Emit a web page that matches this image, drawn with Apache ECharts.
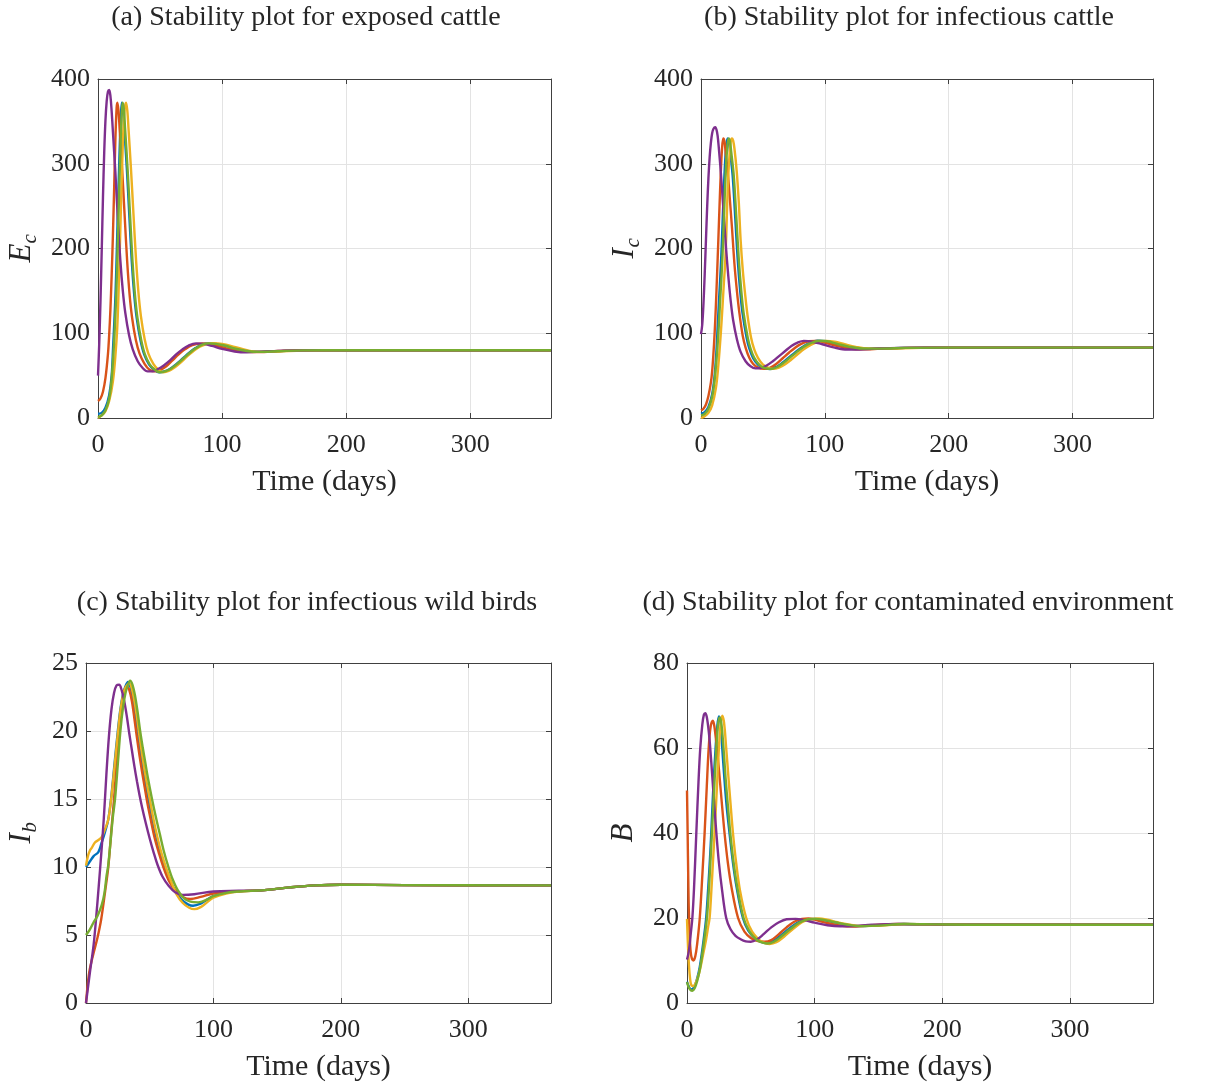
<!DOCTYPE html>
<html>
<head>
<meta charset="utf-8">
<script src="https://cdn.jsdelivr.net/npm/echarts@6.0.0/dist/echarts.min.js"></script>
<style>
html,body{margin:0;padding:0;background:#fff;}
#chart{width:1221px;height:1084px;}
</style>
</head>
<body>
<div id="chart"></div>
<script>
// ---------- DATA ----------
const seriesNames = ['Case 1', 'Case 2', 'Case 3', 'Case 4', 'Case 5'];
const seriesColors = ['#0072BD', '#D95319', '#EDB120', '#7E2F8E', '#77AC30'];
const xTicks = [0, 100, 200, 300];
const panelTitles = [
  '(a) Stability plot for exposed cattle',
  '(b) Stability plot for infectious cattle',
  '(c) Stability plot for infectious wild birds',
  '(d) Stability plot for contaminated environment'
];
const xLabel = 'Time (days)';

// Panel (a): exposed cattle E_c  [day, value]
const aBlue = [[0,5],[3,6],[6,12],[9,27],[11,50],[12.2,85],[13.2,115],[14.2,150],[15.2,200],[16.2,255],[17.2,305],[18.2,348],[19.2,372],[20.2,365],[21.2,342],[23.2,295],[25.2,240],[27.2,185],[29.2,145],[31.2,118],[34.2,92],[37.2,75],[41.2,63],[45.2,57],[49.2,54],[53.5,55],[58.5,58.5],[63.5,64],[68.5,70.5],[73.5,77],[78.5,82.5],[83.5,86.5],[89,88],[95,87.5],[102,85.5],[110,82],[120,79],[130,78],[145,78.8],[165,79.8],[200,80],[365,80]];
const aOrange = [[0,20],[2,23],[4,31],[6,47],[8,75],[9,98],[10,128],[11,168],[12,215],[13,270],[14,328],[15,366],[15.6,372],[16.5,363],[17.5,340],[19.5,292],[21.5,238],[23.5,185],[25.5,145],[27.5,118],[30.5,92],[33.5,76],[37.5,64],[41.5,57],[46,55],[50,56.5],[55,61],[60,68],[65,75],[70,81],[76,86],[84,88],[90,87],[100,83.5],[110,80],[120,78],[130,77.8],[145,79],[165,80],[200,80],[365,80]];
const aYellow = [[0,0],[3,3],[6,8],[9,20],[12,43],[14,73],[15.5,106],[16.6,150],[17.6,200],[18.6,255],[19.6,305],[20.6,345],[21.6,366],[22.6,372],[23.6,363],[24.6,341],[26.6,293],[28.6,240],[30.6,188],[32.6,148],[34.6,120],[37.6,93],[40.6,76],[44.6,64],[48.6,57],[52.6,54],[57,55.5],[62,60],[67,66],[72,73],[77,79],[82,84],[87,87],[93,88.3],[100,87.5],[110,84],[120,80],[130,78],[145,78.5],[165,79.5],[200,80],[365,80]];
const aPurple = [[0,50],[1,88],[2,138],[3,198],[4,260],[5,313],[6,351],[7,374],[8,385],[9,387],[10,380],[11,362],[12,338],[14,290],[16,235],[18,186],[20,150],[22,124],[25,98],[28,81],[32,67],[36,59],[40,55],[44,55],[48,57.5],[53,62],[58,68],[63,75],[68,81],[73,85.5],[79,88],[85,87.5],[92,85],[100,81.5],[110,78.5],[120,77.5],[132,78.3],[150,79.5],[175,80],[365,80]];
const aGreen = [[0,1],[3,3],[6,9],[9,23],[11,46],[12.8,85],[13.8,115],[14.8,150],[15.8,200],[16.8,255],[17.8,305],[18.8,348],[19.8,372],[20.8,365],[21.8,342],[23.8,295],[25.8,240],[27.8,185],[29.8,145],[31.8,118],[34.8,92],[37.8,75],[41.8,63],[45.8,57],[49.8,54],[54,55],[59,58.5],[64,64],[69,70.5],[74,77],[79,82.5],[84,86.5],[89.5,88],[95,87.5],[102,85.5],[110,82],[120,79],[130,78],[145,78.8],[165,79.8],[200,80],[365,80]];

// Panel (b): infectious cattle I_c
const bBlue = [[0,5],[3,7],[6,13],[9,28],[11,50],[12.5,80],[13.6,112],[14.6,140],[15.6,167],[16.5,195],[17.5,234],[18.5,272],[19.5,303],[20.5,322],[21.5,330],[22.5,326],[23.5,314],[25.5,287],[27.5,240],[29.5,190],[31.5,152],[33.5,124],[36.8,95],[39,82],[42,71],[46,63],[50,59],[55.5,57.8],[61,60.5],[66,65.5],[71,71.5],[76,77.5],[81,83],[87,88],[94,91.2],[101,90.5],[109,87.5],[119,84],[129,82],[144,81.8],[165,82.7],[200,83],[365,83]];
const bOrange = [[0,9],[2,11],[4,16],[6,26],[8,42],[9,55],[10,75],[11,100],[12,132],[13,170],[14,210],[15,252],[16,290],[17,318],[18,330],[19,326],[20,312],[21.6,290],[23,264],[25,225],[27,182],[29,150],[31,124],[33.7,97],[36,83],[39,71],[42,64],[46,59.5],[51,58],[56,59.5],[61,64],[66,70.5],[71,77],[76,83],[81,87.5],[87,90.5],[93,91],[100,89],[110,85],[120,82],[130,81],[145,81.8],[165,82.8],[200,83],[365,83]];
const bYellow = [[0,0],[3,2],[6,6],[9,15],[12,35],[14,62],[16,100],[17.5,135],[18.5,160],[19.4,180],[20.4,215],[21.2,255],[22,285],[23,310],[24,326],[25,330],[26,327],[27,318],[28.8,292],[30.5,255],[32,210],[33.7,175],[35.5,148],[37.5,122],[40.4,95],[43,81],[46,71],[50,63],[54,59.5],[58,58],[63,59.5],[68,63.5],[73,69],[78,75],[83,81],[89,86.5],[95,90],[101,91],[108,90],[116,87],[125,84],[135,82],[150,81.8],[170,82.6],[200,83],[365,83]];
const bPurple = [[0,99],[1,110],[2,135],[3,170],[4,210],[5,250],[6,283],[7,308],[8,325],[9,336],[10,341],[11.5,343],[13,337],[14,325],[15,308],[16,290],[18,248],[20,205],[22,168],[24,138],[26,115],[29,93],[32,78],[36,67],[40,61],[44,58.5],[48,59],[53,62],[58,67],[63,73],[68,79],[73,85],[78,89],[83,91],[90,90],[98,87],[108,83],[118,80.8],[128,80.8],[140,81.8],[160,82.8],[200,83],[365,83]];
const bGreen = [[0,3],[3,5],[6,11],[9,25],[11,45],[13,78],[14.5,112],[15.5,140],[16.5,165],[17.4,193],[18.4,232],[19.4,270],[20.4,302],[21.4,322],[22.4,330],[23.4,326],[24.4,314],[26.4,287],[28.4,240],[30.4,190],[32.4,152],[34.4,124],[37.7,95],[40,82],[43,71],[47,63],[51,59],[56.6,57.8],[62,60.5],[67,65.5],[72,71.5],[77,77.5],[82,83],[88,88],[95.7,91.2],[102,90.5],[110,87.5],[120,84],[130,82],[145,81.8],[165,82.7],[200,83],[365,83]];

// Panel (c): infectious wild birds I_b
const cBlue = [[0,10],[3,10.4],[6,10.8],[9.7,11.1],[12,11.7],[15,12.6],[17.5,13.5],[20,15.3],[22.5,17.7],[25,20],[27,21.6],[29,22.7],[31,23.3],[33,23.6],[35,23.2],[37,22.3],[39,21],[41,19.6],[43,18.3],[45,17.1],[47,16],[49,15],[52,13.6],[55,12.3],[58,11.2],[62,10],[66,9],[70,8.2],[75,7.6],[80,7.25],[84,7.15],[90,7.3],[95,7.6],[100,7.85],[110,8.1],[120,8.2],[140,8.3],[160,8.5],[180,8.65],[200,8.7],[250,8.67],[365,8.65]];
const cOrange = [[0,0],[1.5,1.5],[3,2.5],[6,3.7],[9,4.8],[12,6.2],[15,8.2],[17.5,10],[20,12.8],[22,15],[24,17.6],[26,20],[28,21.8],[30,22.9],[32,23.3],[34,23],[36,22.2],[38,20.9],[40,19.5],[42,18.2],[44,17],[46,15.9],[48,14.8],[51,13.4],[54,12.1],[57,11.1],[60.7,10],[65,9],[70,8.3],[76,7.8],[82,7.65],[90,7.8],[100,8.05],[115,8.2],[140,8.3],[160,8.5],[180,8.65],[200,8.7],[250,8.67],[365,8.65]];
const cYellow = [[0,10.1],[1.5,10.8],[3,11.2],[4.5,11.4],[7,11.8],[10,12],[12.3,12.2],[15,12.8],[17.5,13.5],[20,15.2],[22.5,17.5],[25,19.8],[27,21.5],[29,22.6],[31,23.2],[34,23.5],[36,23.1],[38,22.2],[40,21],[42,19.6],[44,18.3],[46,17.1],[48,16],[50,15],[53,13.5],[56,12.2],[59,11.1],[63,9.9],[67,8.9],[71,8],[76,7.35],[81,7],[85,6.9],[90,7.05],[95,7.4],[100,7.75],[110,8.05],[120,8.2],[140,8.3],[160,8.5],[180,8.65],[200,8.7],[250,8.67],[365,8.65]];
const cPurple = [[0,0],[3,2.2],[6,4.3],[8,6.3],[10,8.6],[12,11],[14,13.6],[16,16.8],[18,19.6],[20,21.6],[22,22.8],[24,23.35],[26,23.4],[28,23],[30,22.2],[32,21.1],[34,19.8],[36,18.6],[38,17.4],[40,16.3],[42,15.3],[44,14.4],[47,13.2],[50,12.1],[53,11.1],[56,10.2],[60,9.3],[65,8.6],[70,8.15],[76,7.95],[85,8],[100,8.2],[120,8.25],[140,8.3],[160,8.5],[180,8.65],[200,8.7],[250,8.67],[365,8.65]];
const cGreen = [[0,5],[3,5.4],[5.8,5.9],[9,6.4],[12.3,7.2],[14.5,8.1],[16.2,9.4],[17.3,10],[19,11.6],[21,13.6],[22.8,15],[25,17.6],[27,20],[29,21.7],[31,22.8],[33,23.4],[34.6,23.7],[36.5,23.4],[38.5,22.6],[40.5,21.4],[42.5,20],[44.5,18.8],[46.5,17.7],[48.5,16.6],[51.6,15.1],[55,13.6],[58,12.4],[61,11.2],[64.7,10],[68,9.1],[72,8.3],[77,7.7],[82,7.45],[88,7.4],[95,7.6],[100,7.85],[110,8.1],[120,8.2],[140,8.3],[160,8.5],[180,8.65],[200,8.7],[250,8.67],[365,8.65]];

// Panel (d): contaminated environment B
const dBlue = [[0,5],[1.5,3.8],[3,3.2],[4.5,3.3],[6,4],[8,5.8],[10,8.5],[12,12.5],[13.5,16],[15,20],[16.5,26.5],[18,34],[19,40],[20.5,50],[22.4,60],[23.7,65],[25,67.4],[26.3,66],[27.6,60],[29,54],[31,46.5],[33.3,40],[36,33],[39,27],[43.8,20],[48,17],[53,15.3],[58,14.4],[62,14.1],[67,14.5],[73,15.8],[80,17.5],[87,19],[94,19.7],[100,19.8],[107,19.5],[115,19],[125,18.4],[135,18.1],[150,18.3],[170,18.6],[195,18.5],[230,18.4],[365,18.4]];
const dOrange = [[0,50],[0.5,40],[1,29],[1.5,21],[2.5,13.5],[3.5,10.8],[5,10],[6.5,11],[8,14],[10,20],[12,30],[13.8,40],[15.5,51],[17,60],[18.5,65],[20.3,66.4],[21.5,65],[23.4,60],[25,55],[27,48],[29.4,40],[32,33],[35,27],[40,20],[45,16.8],[50,15.3],[55,14.6],[60.7,14.4],[66,14.8],[72,16.2],[78,17.8],[84,19.1],[90,19.8],[95,19.9],[100,19.6],[110,18.8],[120,18.2],[130,18],[145,18.3],[165,18.6],[185,18.5],[220,18.4],[365,18.4]];
const dYellow = [[0,19.8],[0.7,14],[1.5,9],[2.5,5.5],[3.4,4.2],[5,4],[7,4.8],[9,6.5],[11,9],[13,12],[15,15],[16.5,17.8],[17.7,20],[19,26],[20.3,33],[21.6,40],[23.3,50],[25,60],[26.3,65.5],[27.6,67.6],[29,66],[30.7,60],[32.5,53],[34.2,46.5],[36,40],[38.5,33],[41.5,26.5],[46.4,20],[51,16.8],[56,15],[60,14.2],[64.6,13.9],[70,14.3],[76,15.6],[83,17.4],[90,19],[97,19.8],[103,19.9],[110,19.6],[118,19],[128,18.4],[138,18.1],[152,18.2],[172,18.6],[198,18.5],[230,18.4],[365,18.4]];
const dPurple = [[0,10.2],[1,11.5],[2,13.5],[3,16.5],[4.2,20],[5.5,27],[7.3,40],[9,52],[10.4,60],[12,65.5],[13.2,67.8],[14.3,68.2],[15.5,67.3],[17,64],[18.2,60],[20,52.5],[21.5,46],[23,40],[25,33],[27.5,26.5],[30.7,20],[34,17.4],[38,15.8],[42,15],[46,14.5],[50,14.4],[55,15],[60,16.2],[66,17.8],[72,19],[78,19.7],[85,19.8],[92,19.5],[100,18.9],[110,18.3],[120,18.05],[130,18.1],[145,18.4],[165,18.6],[190,18.5],[230,18.4],[365,18.4]];
const dGreen = [[0,4.9],[1.5,3.6],[3,3],[4.2,2.9],[6,3.5],[8,5.2],[10,7.8],[12,11.5],[14,16],[15.6,20],[17,26],[18.3,33],[19.5,40],[21.2,50],[23,60],[24.3,65.5],[25.5,67.2],[26.8,66],[28.6,60],[30.2,53],[32,46.5],[33.9,40],[36.5,33],[39.5,27],[44.3,20],[49,16.8],[54,15],[58,14.3],[63,14],[68,14.4],[74,15.7],[81,17.4],[88,18.9],[95,19.7],[101,19.8],[108,19.5],[116,19],[126,18.4],[136,18.1],[150,18.2],[170,18.6],[195,18.5],[230,18.4],[365,18.4]];

const yRanges = [[0, 400, 100], [0, 400, 100], [0, 25, 5], [0, 80, 20]];
const panelData = [
  [aBlue, aOrange, aYellow, aPurple, aGreen],
  [bBlue, bOrange, bYellow, bPurple, bGreen],
  [cBlue, cOrange, cYellow, cPurple, cGreen],
  [dBlue, dOrange, dYellow, dPurple, dGreen]
];
const yLabelMain = ['E', 'I', 'I', 'B'];
const yLabelSub = ['c', 'c', 'b', ''];

// ---------- LAYOUT ----------
const grids = [
  {left: 98, top: 79, width: 453, height: 339},
  {left: 701, top: 79, width: 452, height: 339},
  {left: 86, top: 663, width: 465, height: 340},
  {left: 687, top: 663, width: 466, height: 340}
];
const titlePos = [[306, 18], [909, 18], [307, 603], [908, 603]];
const yNamePos = [[22, 248], [625, 248], [22, 833], [624, 833]];

const SERIF = '"Liberation Serif", "Times New Roman", serif';
const AXIS_COLOR = '#404040';
const TEXT_COLOR = '#262626';

const option = {
  animation: false,
  backgroundColor: '#ffffff',
  grid: grids.map(g => Object.assign({containLabel: false}, g)),
  xAxis: [],
  yAxis: [],
  series: [],
  graphic: []
};

grids.forEach((g, i) => {
  const [ymin, ymax, yint] = yRanges[i];
  option.xAxis.push({
    gridIndex: i, type: 'value', min: 0, max: 365, interval: 100, position: 'bottom',
    name: xLabel, nameLocation: 'middle', nameGap: 49,
    nameTextStyle: {fontFamily: SERIF, fontSize: 30, color: TEXT_COLOR},
    axisLine: {show: true, onZero: false, lineStyle: {color: AXIS_COLOR, width: 1}},
    axisTick: {show: true, inside: true, length: 5, lineStyle: {color: AXIS_COLOR}},
    axisLabel: {fontFamily: SERIF, fontSize: 26, color: TEXT_COLOR, margin: 14,
      formatter: v => (xTicks.indexOf(v) >= 0 ? String(v) : '')},
    splitLine: {show: true, lineStyle: {color: '#e3e3e3', width: 1}}
  });
  option.xAxis.push({
    gridIndex: i, type: 'value', min: 0, max: 365, interval: 100, position: 'top',
    axisLine: {show: true, onZero: false, lineStyle: {color: AXIS_COLOR, width: 1}},
    axisTick: {show: true, inside: true, length: 5, lineStyle: {color: AXIS_COLOR}},
    axisLabel: {show: false}, splitLine: {show: false}
  });
  option.yAxis.push({
    gridIndex: i, type: 'value', min: ymin, max: ymax, interval: yint, position: 'left',
    axisLine: {show: true, onZero: false, lineStyle: {color: AXIS_COLOR, width: 1}},
    axisTick: {show: true, inside: true, length: 5, lineStyle: {color: AXIS_COLOR}},
    axisLabel: {fontFamily: SERIF, fontSize: 26, color: TEXT_COLOR, margin: 8},
    splitLine: {show: true, lineStyle: {color: '#e3e3e3', width: 1}}
  });
  option.yAxis.push({
    gridIndex: i, type: 'value', min: ymin, max: ymax, interval: yint, position: 'right',
    axisLine: {show: true, onZero: false, lineStyle: {color: AXIS_COLOR, width: 1}},
    axisTick: {show: true, inside: true, length: 5, lineStyle: {color: AXIS_COLOR}},
    axisLabel: {show: false}, splitLine: {show: false}
  });

  panelData[i].forEach((data, k) => {
    option.series.push({
      name: seriesNames[k], type: 'line',
      xAxisIndex: i * 2, yAxisIndex: i * 2,
      data: data, showSymbol: false, symbol: 'none',
      smooth: 0.35, clip: true,
      lineStyle: {color: seriesColors[k], width: 2.4},
      itemStyle: {color: seriesColors[k]},
      z: 2 + k
    });
  });

  option.graphic.push({
    type: 'text', x: titlePos[i][0], y: titlePos[i][1],
    style: {text: panelTitles[i], fill: TEXT_COLOR, font: '28px ' + SERIF,
      textAlign: 'center', textVerticalAlign: 'middle'}
  });

  const main = yLabelMain[i], sub = yLabelSub[i];
  const mainW = main === 'E' ? 19 : (main === 'I' ? 11 : 19);
  const total = mainW + (sub ? 10 : 0);
  option.graphic.push({
    type: 'group', x: yNamePos[i][0], y: yNamePos[i][1] + total / 2,
    rotation: Math.PI / 2,
    children: [
      {type: 'text', x: 0, y: 0,
        style: {text: main, fill: TEXT_COLOR, font: 'italic 31px ' + SERIF,
          textAlign: 'left', textVerticalAlign: 'middle'}},
      {type: 'text', x: mainW, y: 8,
        style: {text: sub, fill: TEXT_COLOR, font: 'italic 21px ' + SERIF,
          textAlign: 'left', textVerticalAlign: 'middle'}}
    ]
  });
});

const chart = echarts.init(document.getElementById('chart'), null, {renderer: 'canvas', width: 1221, height: 1084});
chart.setOption(option);
</script>
</body>
</html>
